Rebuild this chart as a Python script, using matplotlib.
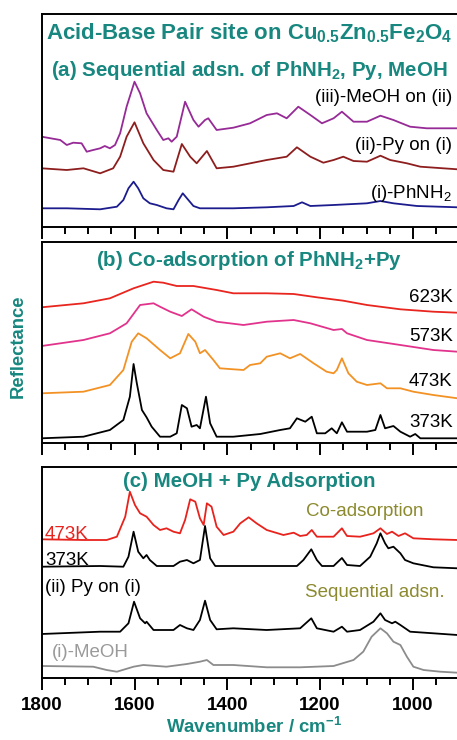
import matplotlib
matplotlib.use("Agg")
import matplotlib.pyplot as plt

plt.rcParams["font.family"] = ["Liberation Sans", "DejaVu Sans"]
plt.rcParams["mathtext.default"] = "regular"

TEAL = "#17877f"
OLIVE = "#8c8a2e"

# (a) sequential adsorption of PhNH2, Py, MeOH
a_i_w = [1800, 1746, 1674, 1638, 1624, 1613, 1602, 1592, 1581, 1567, 1552, 1531, 1516, 1505, 1496,
         1487, 1473, 1459, 1387, 1315, 1257, 1239, 1221, 1171, 1099, 1070, 1042, 991, 904]
a_i_y = [18.7, 18.7, 17.7, 20.3, 27, 38.7, 45.3, 38.7, 28.7, 23.7, 22, 18.7, 17.7, 27, 33.7,
         28.7, 21, 18.7, 18.7, 19.7, 21, 24.7, 21, 22, 23.7, 26, 23.7, 21, 19.7]
a_ii_w = [1800, 1746, 1710, 1674, 1646, 1631, 1617, 1600, 1581, 1559, 1538, 1516, 1498, 1480, 1466, 1444,
          1423, 1387, 1315, 1272, 1250, 1221, 1193, 1171, 1150, 1128, 1099, 1070, 1049, 1013, 984, 904]
a_ii_y = [58.7, 57, 58.7, 53.7, 58.7, 70.3, 90.3, 104.7, 83.7, 67, 57, 55.3, 83, 70.3, 63.7, 76,
          58.7, 60.3, 67, 70.3, 79.7, 70.3, 64.3, 67, 70.3, 66, 65.3, 71.3, 67, 63.7, 60.3, 57.7]
a_iii_w = [1800, 1760, 1746, 1732, 1714, 1703, 1689, 1674, 1664, 1653, 1642, 1631, 1617, 1600, 1588,
           1574, 1552, 1538, 1527, 1520, 1509, 1491, 1473, 1462, 1448, 1441, 1423, 1387, 1351, 1315,
           1293, 1272, 1247, 1221, 1196, 1171, 1153, 1128, 1099, 1070, 1042, 1006, 970, 904]
a_iii_y = [90.3, 87, 82, 84.3, 83.7, 75.3, 77, 78.7, 81, 78.7, 82, 93.7, 120.3, 145.3, 133.7,
           113.7, 97, 87, 88.7, 85.3, 90.3, 125.3, 107, 100.3, 107, 108.7, 97, 99.3, 103.7, 112,
           113.7, 108.7, 120.3, 112, 103.7, 108.7, 115.3, 105.3, 105.3, 111.3, 107, 100.3, 98.7, 98.7]

# (b) co-adsorption of PhNH2 + Py at several temperatures
b_623_w = [1800, 1710, 1653, 1602, 1559, 1538, 1509, 1473, 1423, 1387, 1315, 1257, 1207, 1150, 1099, 1027, 956, 904]
b_623_y = [135.7, 139.7, 144.7, 154.7, 161.3, 160.3, 157, 157, 153, 149.7, 149.7, 149, 145.7, 142.3, 138, 133.7, 131.3, 130.3]
b_573_w = [1800, 1710, 1653, 1617, 1588, 1559, 1545, 1523, 1498, 1477, 1451, 1423, 1365, 1315, 1257,
           1221, 1171, 1153, 1142, 1099, 1027, 956, 904]
b_573_y = [97, 103, 109.7, 119.7, 138, 139.7, 136.3, 131.3, 127, 133.7, 126.3, 121.3, 118, 121.3, 123,
           119.7, 113, 114, 109.7, 103, 98, 93, 91.3]
b_473_w = [1800, 1710, 1653, 1624, 1606, 1592, 1574, 1545, 1523, 1502, 1484, 1469, 1459, 1448, 1430, 1416,
           1387, 1365, 1351, 1329, 1315, 1286, 1265, 1243, 1214, 1186, 1171, 1164, 1153, 1139, 1121, 1099,
           1070, 1056, 1027, 999, 956, 904]
b_473_y = [49.7, 51.3, 58, 73, 101.3, 109.7, 104.7, 93, 84.7, 89.7, 109, 101.3, 89.7, 93, 83, 74.7,
           73.7, 73, 78, 79.7, 86.3, 89.7, 84.7, 89, 79.7, 71.3, 69.7, 73, 84.7, 69.7, 61.3, 58,
           59.7, 54.7, 54.7, 51.3, 48, 44.7]
b_373_w = [1800, 1710, 1653, 1624, 1610, 1602, 1595, 1584, 1574, 1563, 1545, 1523, 1509, 1498, 1487,
           1477, 1466, 1459, 1446, 1437, 1423, 1387, 1329, 1286, 1265, 1250, 1232, 1218, 1207, 1189,
           1175, 1164, 1153, 1142, 1099, 1081, 1070, 1060, 1042, 1027, 1006, 995, 984, 904]
b_373_y = [4.7, 6.3, 13, 23, 46.3, 79, 59.7, 33, 25.7, 16.3, 6.3, 6.3, 9.7, 38, 34.7,
           16.3, 18, 14.7, 46.3, 19.7, 6.3, 6.3, 9, 13, 14.7, 24.7, 21.3, 26.3, 9.7, 9.7,
           14.7, 9.7, 20.7, 11.3, 11.3, 13, 28, 14.7, 17, 11.3, 6.3, 9, 4.7, 4.7]

# (c) MeOH + Py adsorption
c_473_w = [1800, 1710, 1660, 1638, 1620, 1610, 1599, 1588, 1574, 1559, 1545, 1531, 1516, 1502, 1491, 1480,
           1469, 1459, 1451, 1444, 1434, 1423, 1408, 1387, 1372, 1354, 1337, 1315, 1279, 1257, 1243, 1229,
           1218, 1207, 1171, 1153, 1142, 1114, 1099, 1085, 1070, 1056, 1045, 1031, 1017, 999, 956, 904]
c_473_y = [138.7, 138, 138, 141.3, 161.3, 186.3, 173, 164.7, 161.3, 153, 148, 149.7, 146.3, 144.7, 158, 178.7,
           176.3, 159.7, 153, 174.7, 171.3, 151.3, 143, 146.3, 154.7, 160.7, 154.7, 148, 143, 145.3, 142, 143,
           148, 141.3, 141.3, 149.7, 142, 141.3, 143, 144.7, 149.7, 144, 146.3, 142, 144.7, 139.7, 138.7, 138]
c_373_w = [1800, 1674, 1624, 1613, 1602, 1592, 1581, 1574, 1567, 1552, 1516, 1502, 1487, 1473, 1459, 1448,
           1437, 1426, 1315, 1250, 1236, 1219, 1207, 1196, 1171, 1153, 1142, 1114, 1092, 1078, 1070, 1060,
           1053, 1042, 1027, 1017, 999, 956, 904]
c_373_y = [111.3, 112, 111.3, 121.3, 146.3, 126.3, 119.7, 123, 118, 112, 112, 116.3, 118, 114.7, 118, 152,
           119.7, 112, 112, 112, 118, 128.7, 118, 112, 112, 120, 113, 112, 121.3, 134.7, 144.7, 134.7,
           129.7, 131.3, 124.7, 118, 114.7, 110.7, 109.7]
c_ii_w = [1800, 1674, 1631, 1613, 1601, 1588, 1577, 1574, 1559, 1516, 1502, 1487, 1473, 1459, 1448, 1437,
          1423, 1387, 1315, 1243, 1219, 1207, 1171, 1153, 1142, 1114, 1085, 1070, 1060, 1045, 1038, 1027,
          1006, 956, 904]
c_ii_y = [44, 46.3, 46.3, 54.7, 76.3, 59.7, 54.7, 56.3, 48, 48, 53, 49.7, 48, 58, 77.3, 58,
          48.7, 49.7, 48, 49.7, 59.7, 49.7, 46.3, 51.3, 46.3, 48, 56.3, 64.7, 58, 54.7, 56.3, 53,
          46.3, 44.7, 43]
c_i_w = [1800, 1689, 1660, 1638, 1602, 1581, 1531, 1487, 1459, 1444, 1430, 1387, 1315, 1243, 1171,
         1128, 1107, 1089, 1070, 1056, 1042, 1027, 1013, 999, 977, 941, 904]
c_i_y = [12, 11.3, 8, 6.3, 11.3, 13, 11.3, 14, 16.3, 18, 13, 13, 10.7, 10.7, 12,
         18, 26.3, 41.3, 49.7, 44.7, 36.3, 33, 21.3, 11.3, 8, 6.3, 5.3]

fig = plt.figure(figsize=(4.57, 7.40), dpi=100)
L, W = 41.7 / 457, 1 - 41.7 / 457
ax_a = fig.add_axes([L, 1 - 227 / 740, W, 213 / 740])
ax_b = fig.add_axes([L, 1 - 443 / 740, W, 201 / 740])
ax_c = fig.add_axes([L, 1 - 678 / 740, W, 211 / 740])

for ax, top in ((ax_a, 213), (ax_b, 201), (ax_c, 211)):
    ax.set_xlim(1800, 905)
    ax.set_ylim(0, top)
    ax.set_xticks([1800, 1600, 1400, 1200, 1000])
    ax.set_xticks(range(1750, 900, -50), minor=True)
    ax.set_yticks([])
    ax.spines["right"].set_visible(False)
    for s in ("left", "top", "bottom"):
        ax.spines[s].set_linewidth(1.4)
    ax.tick_params(axis="x", which="major", direction="out", length=8.5, width=1.4,
                   labelsize=13.5, pad=5.5)
    ax.tick_params(axis="x", which="minor", direction="out", length=5, width=1.4)
    if ax is not ax_c:
        ax.tick_params(axis="x", labelbottom=False)

for lab in ax_c.get_xticklabels():
    lab.set_fontweight("bold")

kw = dict(lw=1.3, solid_joinstyle="round")
ax_a.plot(a_i_w, a_i_y, color="#1c1c8e", **kw)
ax_a.plot(a_ii_w, a_ii_y, color="#8e1e1e", **kw)
ax_a.plot(a_iii_w, a_iii_y, color="#962a96", **kw)

ax_b.plot(b_623_w, b_623_y, color="#e8251e", **kw)
ax_b.plot(b_573_w, b_573_y, color="#e2338c", **kw)
ax_b.plot(b_473_w, b_473_y, color="#f39224", **kw)
ax_b.plot(b_373_w, b_373_y, color="black", **kw)

ax_c.plot(c_473_w, c_473_y, color="#e8221c", **kw)
ax_c.plot(c_373_w, c_373_y, color="black", **kw)
ax_c.plot(c_ii_w, c_ii_y, color="black", **kw)
ax_c.plot(c_i_w, c_i_y, color="#8c8c8c", **kw)

# titles
ax_a.text(0.5, 0.883, r"Acid-Base Pair site on Cu$_{0.5}$Zn$_{0.5}$Fe$_2$O$_4$", transform=ax_a.transAxes,
          ha="center", va="baseline", color=TEAL, fontsize=16, fontweight="bold")
ax_a.text(0.5, 0.709, r"(a) Sequential adsn. of PhNH$_2$, Py, MeOH", transform=ax_a.transAxes,
          ha="center", va="baseline", color=TEAL, fontsize=14.8, fontweight="bold")
ax_b.text(0.5, 0.91, r"(b) Co-adsorption of PhNH$_2$+Py", transform=ax_b.transAxes,
          ha="center", va="center", color=TEAL, fontsize=14.8, fontweight="bold")
ax_c.text(0.5, 0.929, "(c) MeOH + Py Adsorption", transform=ax_c.transAxes,
          ha="center", va="center", color=TEAL, fontsize=14.8, fontweight="bold")

# curve labels
fs = 13.5
ax_a.text(0.988, 0.588, "(iii)-MeOH on (ii)", transform=ax_a.transAxes, ha="right", va="baseline", fontsize=fs)
ax_a.text(0.988, 0.361, "(ii)-Py on (i)", transform=ax_a.transAxes, ha="right", va="baseline", fontsize=fs)
ax_a.text(0.988, 0.136, r"(i)-PhNH$_2$", transform=ax_a.transAxes, ha="right", va="baseline", fontsize=fs)

for txt, yy in (("623K", 0.726), ("573K", 0.532), ("473K", 0.308), ("373K", 0.104)):
    ax_b.text(0.99, yy, txt, transform=ax_b.transAxes, ha="right", va="center", fontsize=fs)

ax_c.text(0.008, 0.682, "473K", transform=ax_c.transAxes, ha="left", va="center", fontsize=fs, color="#e8221c")
ax_c.text(0.008, 0.559, "373K", transform=ax_c.transAxes, ha="left", va="center", fontsize=fs)
ax_c.text(0.008, 0.427, "(ii) Py on (i)", transform=ax_c.transAxes, ha="left", va="center", fontsize=fs)
ax_c.text(0.025, 0.123, "(i)-MeOH", transform=ax_c.transAxes, ha="left", va="center", fontsize=fs, color="#9a9a9a")
ax_c.text(0.779, 0.787, "Co-adsorption", transform=ax_c.transAxes, ha="center", va="center", fontsize=fs, color=OLIVE)
ax_c.text(0.801, 0.403, "Sequential adsn.", transform=ax_c.transAxes, ha="center", va="center", fontsize=fs, color=OLIVE)

fig.text(0.039, 0.532, "Reflectance", rotation=90, ha="center", va="center",
         color=TEAL, fontsize=13.3, fontweight="bold")
fig.text(0.556, 0.018, r"Wavenumber / cm$^{-1}$", ha="center", va="center",
         color=TEAL, fontsize=13.4, fontweight="bold")

fig.savefig("out.png", dpi=100)
